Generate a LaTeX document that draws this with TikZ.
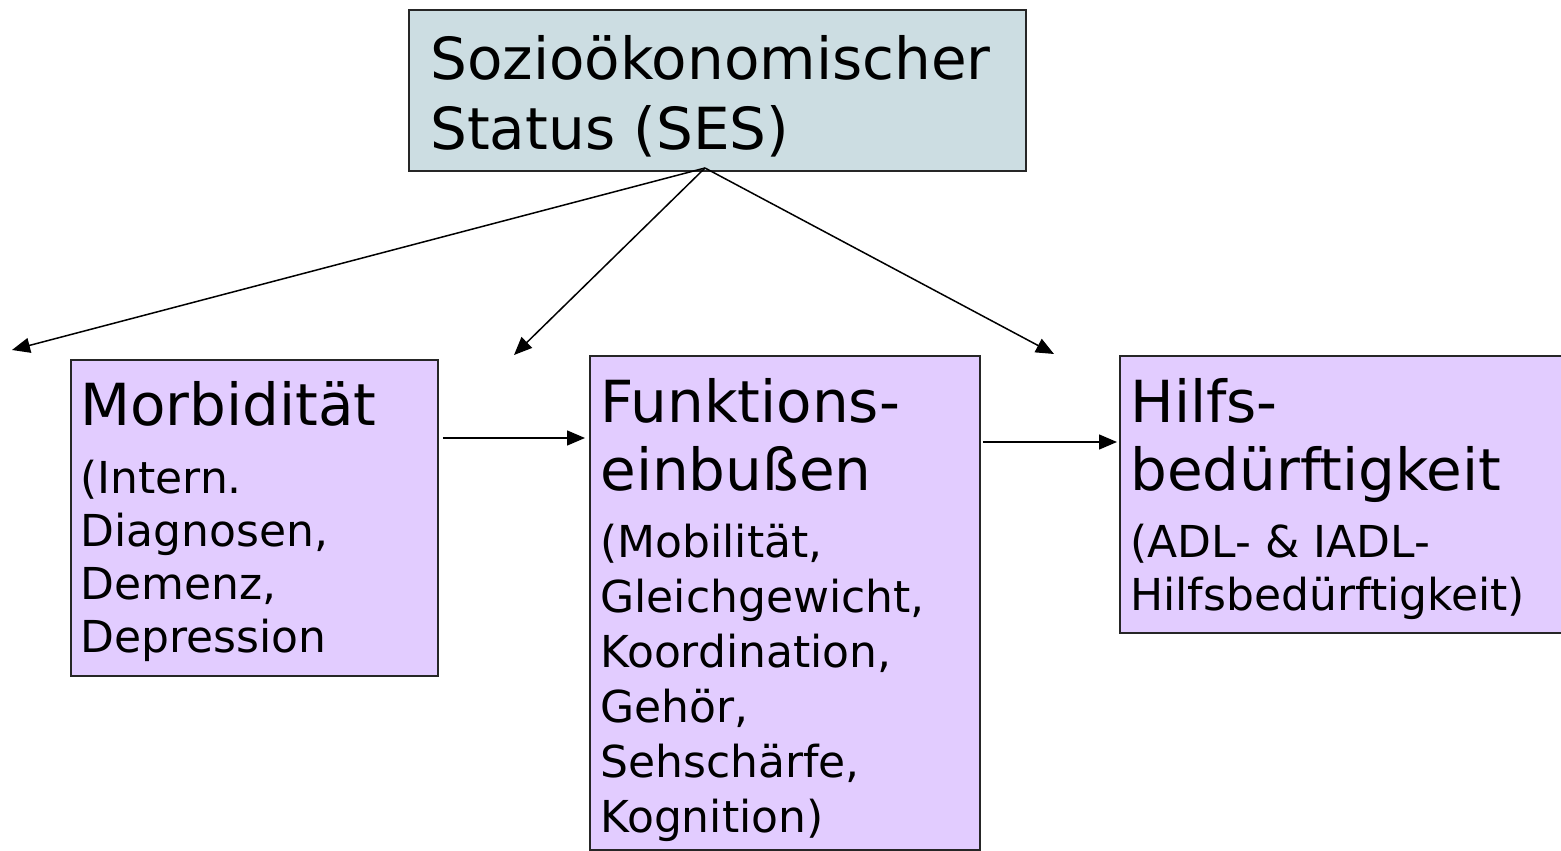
\documentclass[tikz,border=0pt]{standalone}
\usepackage{fontspec}
\setmainfont{DejaVu Sans}
\usetikzlibrary{arrows.meta}
\definecolor{sesfill}{RGB}{204,221,226}
\definecolor{boxfill}{RGB}{226,204,255}
\begin{document}
\begin{tikzpicture}[x=0.5pt,y=-0.5pt,
  box/.style={draw=black!85, line width=0.9pt, rectangle, inner sep=0pt, anchor=north west},
  bigtxt/.style={font=\fontsize{29}{34}\selectfont, align=left, inner sep=0pt, anchor=base west},
  smalltxt/.style={font=\fontsize{22}{27}\selectfont, align=left, inner sep=0pt, anchor=base west},
  arr/.style={-{Triangle[length=9pt,width=7.5pt]}, line width=0.75pt}]
\useasboundingbox (0,0) rectangle (1561,850);
% boxes
\node[box, fill=sesfill, minimum width=308.5pt, minimum height=80.5pt] (ses) at (408,9) {};
\node[box, fill=boxfill, minimum width=183.5pt, minimum height=158pt] (morb) at (70,359) {};
\node[box, fill=boxfill, minimum width=195pt, minimum height=247pt] (funk) at (589,355) {};
\node[box, fill=boxfill, minimum width=221.5pt, minimum height=138.5pt] (hilfs) at (1119,355) {};
% texts (anchored at the baseline of the last line)
\node[bigtxt, font=\fontsize{29}{35}\selectfont] (sestxt) at (430,150) {Sozioökonomischer\\Status (SES)};
\node[bigtxt] (morbtxt) at (80,425) {Morbidität};
\node[smalltxt, font=\fontsize{22}{26.5}\selectfont] (morbsub) at (80,652) {(Intern.\\Diagnosen,\\Demenz,\\Depression};
\node[bigtxt] (funktxt) at (600,490) {Funktions-\\einbußen};
\node[smalltxt, font=\fontsize{22}{27.5}\selectfont] (funksub) at (600,832) {(Mobilität,\\Gleichgewicht,\\Koordination,\\Gehör,\\Sehschärfe,\\Kognition)};
\node[bigtxt] (hilfstxt) at (1130,490) {Hilfs-\\bedürftigkeit};
\node[smalltxt, font=\fontsize{22}{26.5}\selectfont] (hilfssub) at (1130,610) {(ADL- \& IADL-\\Hilfsbedürftigkeit)};
% connectors
\coordinate (apex) at (705,168);
\coordinate (t1) at (12,350);
\coordinate (t2) at (514,355);
\coordinate (t3) at (1054,354);
\draw[arr] (apex) -- (t1);
\draw[arr] (apex) -- (t2);
\draw[arr] (apex) -- (t3);
\draw[arr] ([shift={(4,79)}]morb.north east) -- ([shift={(-4,83)}]funk.north west);
\draw[arr] ([shift={(2,87)}]funk.north east) -- ([shift={(-2,87)}]hilfs.north west);
\end{tikzpicture}
\end{document}
